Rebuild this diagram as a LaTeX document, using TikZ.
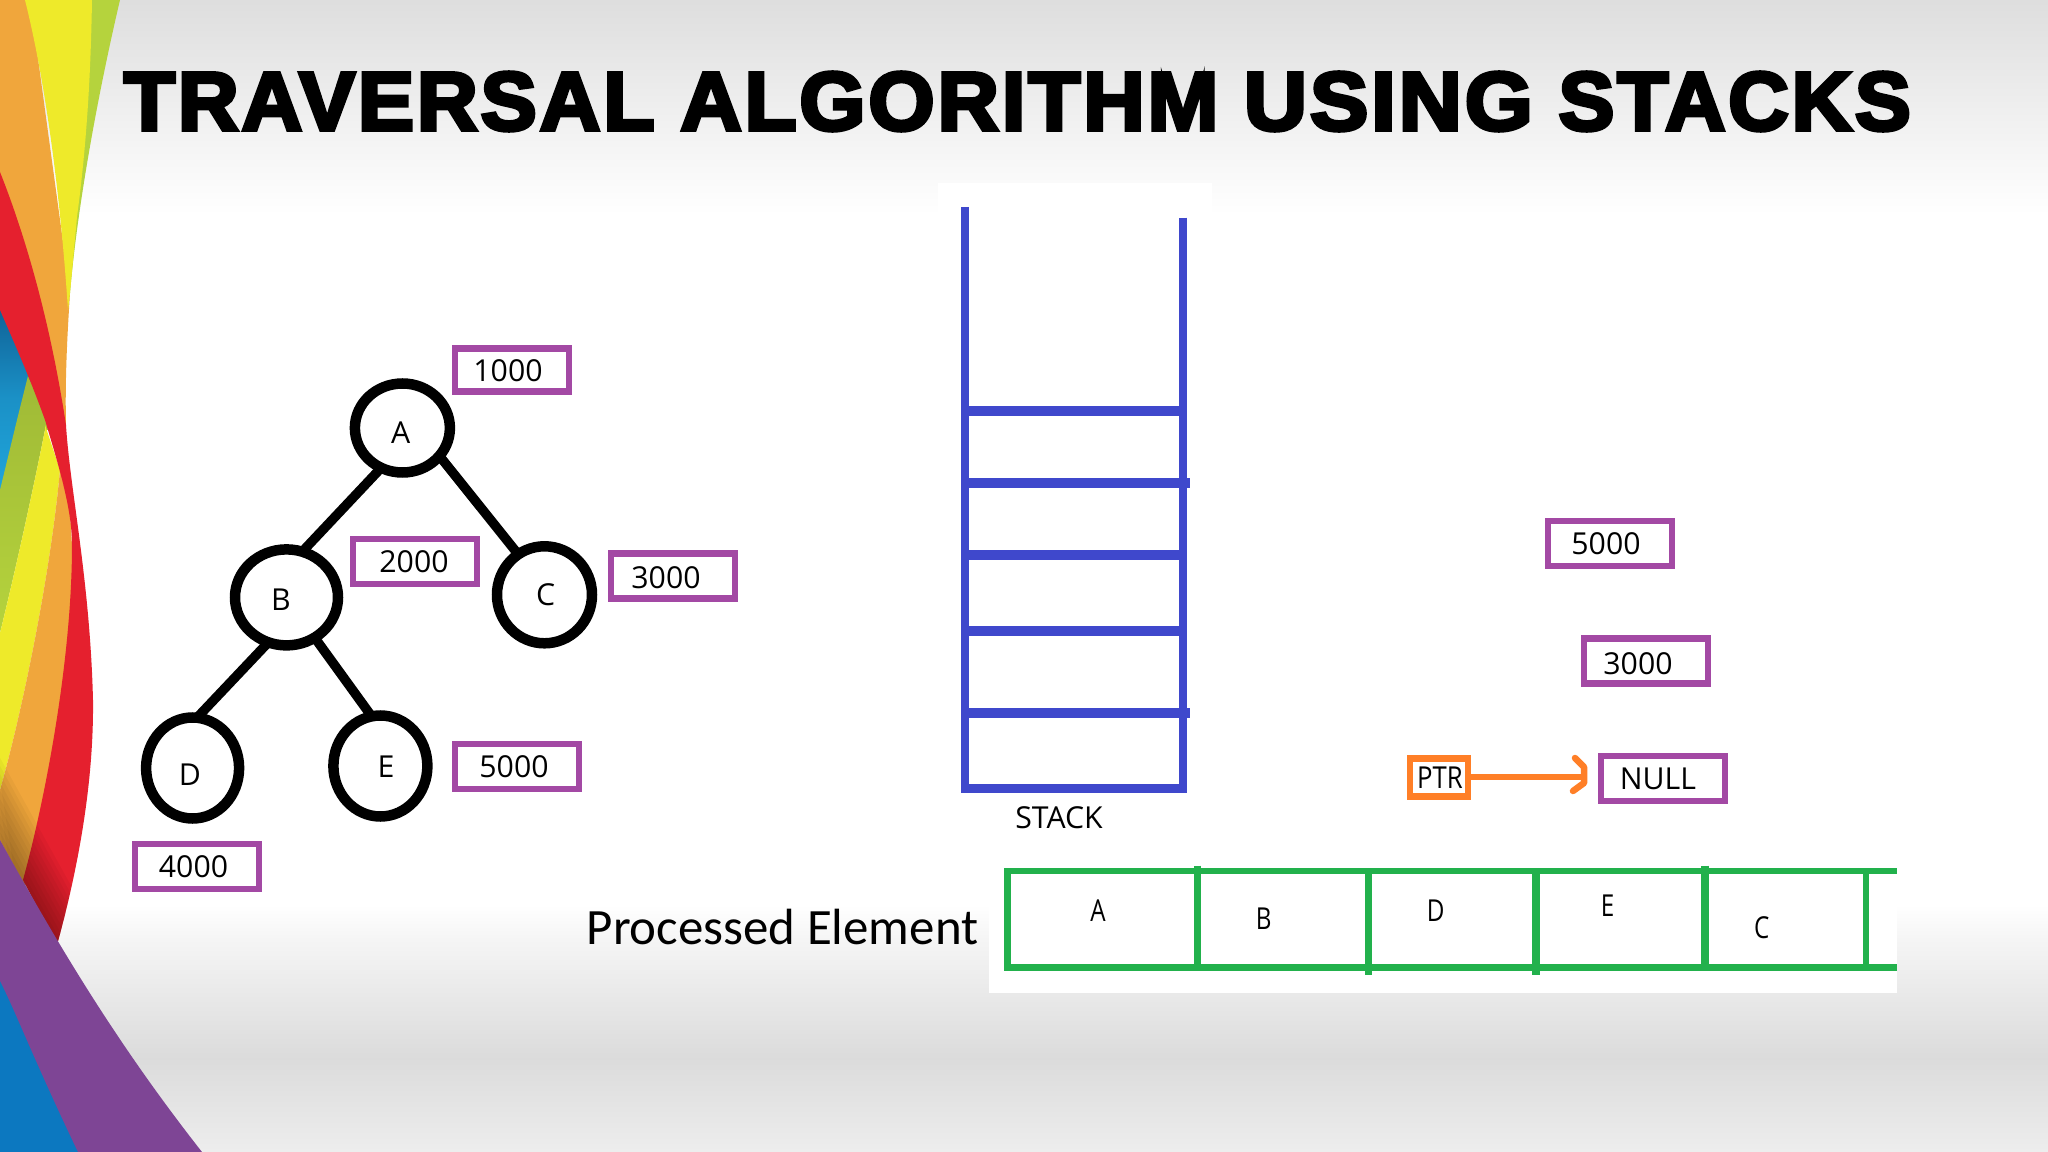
\documentclass[tikz,border=0pt]{standalone}
\usepackage{fontspec}
\setmainfont{Open Sans}
\newfontfamily\carl{Carlito}
\newfontfamily\ttl[FakeBold=4.5,LetterSpace=3.5]{Liberation Sans Bold}
\usetikzlibrary{shapes.geometric}
\newlength{\px}\setlength{\px}{0.01cm}
\newcommand{\off}[3]{\raisebox{\dimexpr#2\px-11\px\relax}[0pt][0pt]{\makebox[0pt]{\hspace*{\dimexpr#1\px*2\relax}#3}}}
\definecolor{pp}{HTML}{A349A4}
\definecolor{og}{HTML}{FF7F27}
\definecolor{bl}{HTML}{3F48CC}
\definecolor{gn}{HTML}{22B14C}
\definecolor{rO}{HTML}{F0A63C}
\definecolor{rY}{HTML}{EEEA2A}
\definecolor{rL}{HTML}{B5D33D}
\definecolor{rR}{HTML}{E5202E}
\definecolor{rC}{HTML}{20A6DC}
\definecolor{rD}{HTML}{0E5E93}
\definecolor{rP}{HTML}{7E4595}
\definecolor{rB}{HTML}{0C78C0}
\tikzset{
  lab/.style={font=\fontsize{8.6pt}{10pt}\selectfont,text=black,inner sep=0pt,outer sep=0pt},
  pbox/.style={lab,draw=pp,line width=6.3\px,fill=white,rectangle,minimum width=124\px,minimum height=45\px},
  tnode/.style={lab,draw=black,line width=10.5\px,fill=white,ellipse,inner sep=0pt},
  tedge/.style={draw=black,line width=9.5\px},
  wall/.style={draw=bl,line width=8.3\px},
  shelf/.style={draw=bl,line width=10\px},
  gbar/.style={draw=gn,line width=6\px},
  gv/.style={draw=gn,line width=7.5\px},
}
\begin{document}
\begin{tikzpicture}[x=0.01cm,y=-0.01cm]
\useasboundingbox (0,0) rectangle (2048,1152);
% background
\fill[white] (0,0) rectangle (2048,1152);
\shade[top color=black!13,bottom color=white] (0,0) rectangle (2048,215);
\shade[top color=white,bottom color=black!4] (0,905) rectangle (2048,940);
\shade[top color=black!4,bottom color=black!14] (0,940) rectangle (2048,1058);
\shade[top color=black!14,bottom color=black!7] (0,1058) rectangle (2048,1152);
% white patches
\fill[white] (938,183) rectangle (1212,260);
\fill[white] (989,850) rectangle (1897,993);
% ribbons, upper part
\fill[rO] (0,0) -- (30,0) -- (70,293) .. controls (67,340) and (65,380) .. (66,425) -- (0,425) -- cycle;
\fill[rL] (92,0) -- (120,0) .. controls (100,85) and (78,200) .. (70,293) -- (60,200) -- cycle;
\fill[rY] (25,0) -- (92,0) .. controls (91,60) and (88,135) .. (77,217) -- (70,293) -- (68,310) .. controls (60,190) and (45,80) .. (25,0) -- cycle;
\shade[top color=rD,bottom color=rC,middle color=rC!70!rD] (0,300) -- (32,378) -- (0,495) -- cycle;
% ribbons, lower part
\shade[top color=rL!88!black,middle color=rL,bottom color=rL] (0,490) -- (17,420) -- (28,376) -- (52,430) -- (45,430) .. controls (35,480) and (18,560) .. (0,633) -- cycle;
\fill[rY] (45,425) -- (60,470) .. controls (50,580) and (20,720) .. (0,790) -- (0,633) .. controls (18,560) and (35,480) .. (45,430) -- cycle;
\fill[rO] (0,790) .. controls (20,720) and (50,580) .. (60,470) -- (70,510) -- (75,600) -- (65,700) -- (25,885) -- (0,845) -- cycle;
\fill[rR] (0,172) .. controls (25,235) and (50,320) .. (66,425) .. controls (70,490) and (90,580) .. (93,700) .. controls (94,790) and (75,880) .. (57,945) -- (23,880) .. controls (45,800) and (72,660) .. (72,545) .. controls (72,510) and (60,470) .. (45,420) .. controls (30,378) and (13,340) .. (0,310) -- cycle;
% shadow cast on the ribbons by the purple band
\begin{scope}
\clip (0,700) -- (93,700) .. controls (94,790) and (75,880) .. (57,945) -- (0,840) -- cycle;
\foreach \d in {4,8,...,40} {
  \fill[black,opacity=.035,shift={(.87*\d,-.49*\d)}] (-40,768) -- (100,1020) -- (0,1020) -- cycle;
}
\end{scope}
\fill[rB] (0,900) -- (120,1152) -- (0,1152) -- cycle;
\fill[rP] (0,840) .. controls (50,930) and (110,1035) .. (202,1152) -- (78,1152) .. controls (33,1058) and (15,1010) .. (0,981) -- cycle;
% title
\node[inner sep=0pt,anchor=west,text=black] (title) at (123,101.5) {\resizebox{1787\px}{58\px}{\ttl \scalebox{.985}[1]{TRAVERSAL}\hspace{.3em}\scalebox{.995}[1]{ALGORITHM}\hspace{.3em}\scalebox{1.024}[1]{USING}\hspace{.3em}\scalebox{.98}[1]{STACKS}}};
% tree
\node[tnode,minimum width=95\px,minimum height=89\px] (A) at (402.4,428) {\off{-1.6}{-5}{A}};
\node[tnode,minimum width=103\px,minimum height=96\px] (B) at (286.5,597.4) {\off{-5.5}{-2.2}{B}};
\node[tnode,minimum width=95\px,minimum height=97\px] (C) at (544.5,594.8) {\off{1.2}{0}{C}};
\node[tnode,minimum width=93\px,minimum height=101\px] (D) at (192.6,768) {\off{-2.6}{-6.4}{D}};
\node[tnode,minimum width=94\px,minimum height=101\px] (E) at (380.4,766) {\off{5.6}{0}{E}};
\draw[tedge] (A.242) -- (B.71);
\draw[tedge] (A.323) -- (C.123);
\draw[tedge] (B.248) -- (D.85);
\draw[tedge] (B.305) -- (E.100);
\node[pbox,minimum width=114\px,minimum height=43\px] (n1000) at (512,370) {\off{-4}{-.7}{1000}};
\node[pbox] (n2000) at (415,561.5) {\off{-1}{0}{2000}};
\node[pbox] (n3000) at (673,576) {\off{-7}{-1.4}{3000}};
\node[pbox] (n5000) at (517,766.5) {\off{-3}{.5}{5000}};
\node[pbox] (n4000) at (197,866.5) {\off{-3.5}{.5}{4000}};
% stack
\draw[wall] (965.2,207) -- (965.2,793);
\draw[wall] (1183.2,217.7) -- (1183.2,793);
\draw[shelf,line width=9.5\px] (961,788.3) -- (1187.3,788.3);
\draw[shelf] (965,411) -- (1183,411);
\draw[shelf] (965,483) -- (1190.3,483);
\draw[shelf] (965,555) -- (1183,555);
\draw[shelf] (965,630.5) -- (1183,630.5);
\draw[shelf] (965,713) -- (1190.3,713);
\node[lab] (stacklabel) at (1059,817.5) {STACK};
% right boxes
\node[pbox] (r5000) at (1610,543.6) {\off{-4}{0}{5000}};
\node[pbox] (r3000) at (1645.7,661) {\off{-7.7}{-2}{3000}};
\node[pbox] (rnull) at (1663,778.6) {\off{-5}{0}{NULL}};
\node[lab,draw=og,line width=6.5\px,fill=white,rectangle,minimum width=58\px,minimum height=38\px] (ptr) at (1439,777.3) {\off{1}{0}{\scalebox{.85}[1]{PTR}}};
\coordinate (tip) at (1583,777.3);
\draw[og,line width=5.7\px] (ptr.east) -- (tip);
\draw[og,line width=6.5\px,line cap=round,line join=round] (1575,758) -- (1584,767) -- (1584,783) -- (1573,791);
% processed
\node[inner sep=0pt,anchor=base west,text=black,font=\carl\fontsize{14.48pt}{17pt}\selectfont] (proc) at (586,944) {Processed Element};
\draw[gbar] (1004,871.2) -- (1897,871.2);
\draw[gbar,line width=6.7\px] (1004,967.4) -- (1897,967.4);
\draw[gv] (1007.5,868) -- (1007.5,970.7);
\draw[gv] (1197.5,865.7) -- (1197.5,970);
\draw[gv] (1368.5,871) -- (1368.5,975);
\draw[gv,line width=8.4\px] (1535.8,871) -- (1535.8,975);
\draw[gv,line width=8.4\px] (1704.8,865.7) -- (1704.8,970);
\draw[gv,line width=6\px] (1866,871) -- (1866,968);
\node[lab] (pa) at (1098,911) {\scalebox{.8}[1]{A}};
\node[lab] (pb) at (1263.6,918.7) {\scalebox{.8}[1]{B}};
\node[lab] (pd) at (1435.6,911) {\scalebox{.8}[1]{D}};
\node[lab] (pe) at (1607.7,906) {\scalebox{.8}[1]{E}};
\node[lab] (pc) at (1761.8,928) {\scalebox{.8}[1]{C}};
\end{tikzpicture}
\end{document}
